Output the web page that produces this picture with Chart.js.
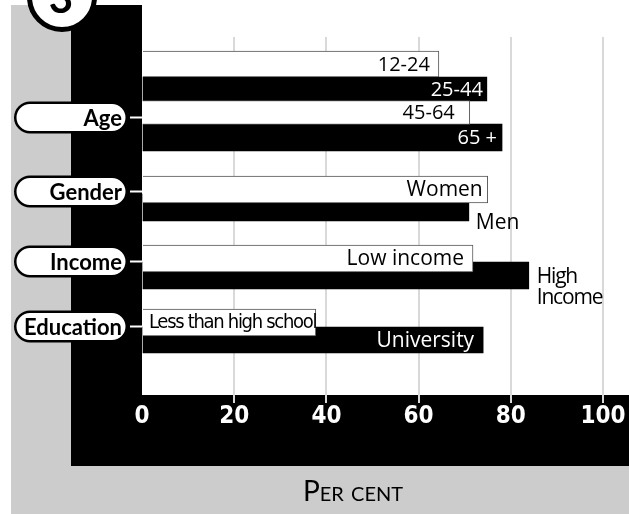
<!DOCTYPE html>
<html>
<head>
<meta charset="utf-8">
<script src="https://cdn.jsdelivr.net/npm/chart.js@4"></script>
<style>
  html, body { margin: 0; padding: 0; background: #fff; }
  #wrap { width: 629px; height: 514px; }
</style>
</head>
<body>
<div id="wrap"><canvas id="myChart" width="629" height="514"></canvas></div>
<script>
// groups shown in the pills on the left
var groups = ['Age', 'Gender', 'Income', 'Education'];
// bars, top to bottom
var barLabels = ['12-24', '25-44', '45-64', '65 +', 'Women', 'Men', 'Low income', 'High\nIncome', 'Less than high school', 'University'];
var barValues = [64.4, 74.8, 71.1, 78.1, 75.0, 70.9, 71.8, 83.9, 37.7, 74.0];
var xTicks = [0, 20, 40, 60, 80, 100];
var xTitle = 'Per cent';

// layout: y positions in px below the top of the plot
var groupPos = [80.5, 154.5, 224.5, 289.5];
var barPos = [27, 52, 75.5, 100.5, 152.5, 170.5, 221.5, 238.5, 285.5, 303];
var barSize = [26, 24, 24, 27, 27, 27, 27, 27, 27, 26];
var barDark = [false, true, false, true, false, true, false, true, false, true];
var labelMode = ['in', 'in', 'in', 'in', 'in', 'below', 'in', 'right', 'start', 'in'];
var labelPad = [9, 4, 15, 5, 5, 7, 9, 8, 6, 9];

var GRAY = '#cccccc';
var NARROW = '"DejaVu Sans Condensed", "Liberation Sans Narrow", Roboto';

var datasets = barValues.map(function(v, i) {
    return {
        label: barLabels[i],
        data: [{x: v, y: barPos[i]}],
        backgroundColor: barDark[i] ? '#000' : '#fff',
        borderColor: barDark[i] ? '#000' : '#555',
        borderWidth: barDark[i] ? 0 : 1,
        barThickness: barSize[i],
        stack: 'rows',
        order: barDark[i] ? 1 : 0
    };
});

function pill(ctx, x1, x2, yc, h) {
    var r = h / 2;
    ctx.beginPath();
    ctx.moveTo(x1 + r, yc - r);
    ctx.lineTo(x2 - r, yc - r);
    ctx.arc(x2 - r, yc, r, -Math.PI / 2, Math.PI / 2);
    ctx.lineTo(x1 + r, yc + r);
    ctx.arc(x1 + r, yc, r, Math.PI / 2, Math.PI * 1.5);
    ctx.closePath();
}

var frame = {
    id: 'frame',
    beforeDraw: function(chart) {
        var ctx = chart.ctx, a = chart.chartArea;
        ctx.save();
        ctx.fillStyle = GRAY;
        ctx.fillRect(11, 5, 60, 509);
        ctx.fillRect(11, 466, 618, 48);
        ctx.fillStyle = '#000';
        ctx.fillRect(71, 5, a.left - 71, 461);
        ctx.fillRect(71, a.bottom, 629 - 71, 466 - a.bottom);
        ctx.restore();
    },
    afterDatasetsDraw: function(chart) {
        var ctx = chart.ctx;
        ctx.save();
        chart.data.datasets.forEach(function(ds, i) {
            var bar = chart.getDatasetMeta(i).data[0];
            var mode = labelMode[i], pad = labelPad[i];
            ctx.fillStyle = barDark[i] && mode === 'in' ? '#fff' : '#000';
            ctx.textBaseline = 'middle';
            var isNum = /^[0-9]/.test(barLabels[i]);
            ctx.font = (isNum ? '20px' : '21px') + ' "Open Sans"';
            ctx.letterSpacing = '0px';
            if (mode === 'in') {
                ctx.textAlign = 'right';
                ctx.fillText(barLabels[i], bar.x - pad, bar.y + 1);
            } else if (mode === 'below') {
                ctx.textAlign = 'left';
                ctx.font = '21px "Open Sans"';
                ctx.fillText(barLabels[i], bar.x + pad, bar.y + bar.height / 2 + 2);
            } else if (mode === 'right') {
                ctx.textAlign = 'left';
                ctx.font = '21px "Open Sans"';
                ctx.letterSpacing = '-1.2px';
                barLabels[i].split('\n').forEach(function(line, k) {
                    ctx.fillText(line, bar.x + pad, bar.y + 2 + k * 21);
                });
            } else {
                ctx.textAlign = 'left';
                ctx.font = '20px ' + NARROW;
                ctx.letterSpacing = '-1.3px';
                ctx.fillText(barLabels[i], bar.base + pad, bar.y);
            }
        });
        ctx.restore();
    },
    afterDraw: function(chart) {
        var ctx = chart.ctx, a = chart.chartArea;
        var ys = chart.scales.y;
        ctx.save();
        // group pills and their ticks
        groups.forEach(function(g, i) {
            var y = ys.getPixelForValue(groupPos[i]);
            ctx.strokeStyle = '#fff';
            ctx.lineWidth = 2;
            ctx.beginPath();
            ctx.moveTo(130, y);
            ctx.lineTo(a.left, y);
            ctx.stroke();
            pill(ctx, 15.25, 126.75, y, 29.5);
            ctx.fillStyle = '#fff';
            ctx.fill();
            ctx.strokeStyle = '#000';
            ctx.lineWidth = 2.5;
            ctx.stroke();
            ctx.fillStyle = '#000';
            ctx.font = 'bold 22px Lato';
            ctx.textAlign = 'right';
            ctx.textBaseline = 'middle';
            ctx.fillText(g, 122, y + 1);
        });
        // axis title
        ctx.fillStyle = '#000';
        ctx.font = 'small-caps 28px Lato';
        ctx.textAlign = 'center';
        ctx.textBaseline = 'alphabetic';
        ctx.fillText(xTitle, 353, 501);
        // figure number
        ctx.beginPath();
        ctx.arc(62, -3, 32.5, 0, Math.PI * 2);
        ctx.fillStyle = '#fff';
        ctx.fill();
        ctx.lineWidth = 5;
        ctx.strokeStyle = '#000';
        ctx.stroke();
        ctx.fillStyle = '#000';
        ctx.font = 'bold 42px Lato';
        ctx.textBaseline = 'alphabetic';
        ctx.fillText('3', 61, 13);
        ctx.restore();
    }
};

var ctx = document.getElementById('myChart');

var myChart = new Chart(ctx, {
    type: 'bar',
    data: { datasets: datasets },
    options: {
        indexAxis: 'y',
        responsive: false,
        animation: false,
        devicePixelRatio: 1,
        layout: { padding: { left: 142, right: 26, top: 37, bottom: 0 } },
        plugins: { legend: { display: false }, tooltip: { enabled: false } },
        scales: {
            x: {
                type: 'linear',
                min: 0,
                max: 100,
                stacked: false,
                afterBuildTicks: function(s) {
                    s.ticks = xTicks.map(function(v) { return {value: v}; });
                },
                afterFit: function(s) { s.height = 119; },
                grid: {
                    color: function(c) { return c.tick && c.tick.value === 0 ? 'rgba(0,0,0,0)' : '#d9d9d9'; },
                    lineWidth: 2,
                    tickLength: 8
                },
                border: { display: false },
                ticks: {
                    color: '#fff',
                    padding: 2,
                    maxRotation: 0,
                    font: { family: NARROW, weight: 'bold', size: 24, lineHeight: 1 }
                }
            },
            y: {
                type: 'linear',
                display: false,
                offset: false,
                reverse: true,
                min: 0,
                max: 358
            }
        }
    },
    plugins: [frame]
});
</script>
</body>
</html>
